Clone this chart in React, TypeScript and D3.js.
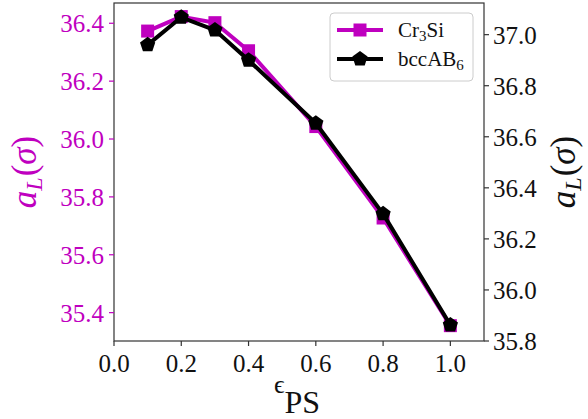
import React from "react";
import * as d3 from "d3";

const eps = [0.1, 0.2, 0.3, 0.4, 0.6, 0.8, 1.0];
const cr3si = [36.373, 36.423, 36.402, 36.305, 36.043, 35.727, 35.355];
const bccAB6 = [36.96, 37.068, 37.018, 36.9, 36.653, 36.298, 35.863];
const xTicks = [0.0, 0.2, 0.4, 0.6, 0.8, 1.0];
const leftTicks = [35.4, 35.6, 35.8, 36.0, 36.2, 36.4];
const rightTicks = [35.8, 36.0, 36.2, 36.4, 36.6, 36.8, 37.0];

const W = 588, H = 419;
const L = 114, R = 484, T = 3, B = 341;
const MAG = "#bf00bf";
const FONT = "'Liberation Serif', 'DejaVu Serif', serif";

function pentagon(cx: number, cy: number, r: number) {
  const pts: [number, number][] = [];
  for (let i = 0; i < 5; i++) {
    const a = -Math.PI / 2 + (i * 2 * Math.PI) / 5;
    pts.push([cx + r * Math.cos(a), cy + r * Math.sin(a)]);
  }
  return "M" + pts.map((p) => p.join(",")).join("L") + "Z";
}

function ALabel({ x, y, fill }: { x: number; y: number; fill: string }) {
  return (
    <text transform={`translate(${x},${y}) rotate(-90)`} fontSize={35} textAnchor="middle" fill={fill} fontFamily={FONT}>
      <tspan fontStyle="italic">a</tspan>
      <tspan fontStyle="italic" fontSize={24} dy={6}>L</tspan>
      <tspan dy={-6} dx={1}>(</tspan>
      <tspan fontStyle="italic">σ</tspan>
      <tspan>)</tspan>
    </text>
  );
}

export default function App() {
  const x = d3.scaleLinear().domain([0, 1.1]).range([L, R]);
  const yL = d3.scaleLinear().domain([35.302, 36.47]).range([B, T]);
  const yR = d3.scaleLinear().domain([35.8, 37.124]).range([B, T]);

  const lineL = d3.line<number>().x((_, i) => x(eps[i])).y((d) => yL(d));
  const lineR = d3.line<number>().x((_, i) => x(eps[i])).y((d) => yR(d));

  const fs = 25;
  const sq = 13;

  return (
    <svg width={W} height={H} style={{ position: "absolute", left: 0, top: 0, background: "#fff" }} fontFamily={FONT}>
      {/* series */}
      <path d={lineL(cr3si) || ""} fill="none" stroke={MAG} strokeWidth={4} strokeLinejoin="round" />
      {cr3si.map((v, i) => (
        <rect key={"s" + i} x={x(eps[i]) - sq / 2} y={yL(v) - sq / 2} width={sq} height={sq} fill={MAG} />
      ))}
      <path d={lineR(bccAB6) || ""} fill="none" stroke="#000" strokeWidth={4} strokeLinejoin="round" />
      {bccAB6.map((v, i) => (
        <path key={"p" + i} d={pentagon(x(eps[i]), yR(v), 8)} fill="#000" />
      ))}

      {/* frame */}
      <rect x={L} y={T} width={R - L} height={B - T} fill="none" stroke="#333" strokeWidth={1.2} />

      {/* x axis */}
      {xTicks.map((t) => (
        <g key={"x" + t}>
          <line x1={x(t)} x2={x(t)} y1={B} y2={B + 5} stroke="#333" strokeWidth={1.2} />
          <text x={x(t)} y={372} fontSize={fs} textAnchor="middle" fill="#111">{t.toFixed(1)}</text>
        </g>
      ))}
      <text x={(L + R) / 2 - 2} y={413} fontSize={32} textAnchor="middle" fill="#111">
        <tspan fontSize={26} dy={-20}>ϵ</tspan>
        <tspan dy={20}>PS</tspan>
      </text>

      {/* left axis */}
      {leftTicks.map((t) => (
        <g key={"l" + t}>
          <line x1={L - 5} x2={L} y1={yL(t)} y2={yL(t)} stroke={MAG} strokeWidth={1.2} />
          <text x={L - 10} y={yL(t) + 9} fontSize={fs} textAnchor="end" fill={MAG}>{t.toFixed(1)}</text>
        </g>
      ))}
      <ALabel x={36} y={(T + B) / 2} fill={MAG} />

      {/* right axis */}
      {rightTicks.map((t) => (
        <g key={"r" + t}>
          <line x1={R} x2={R + 5} y1={yR(t)} y2={yR(t)} stroke="#333" strokeWidth={1.2} />
          <text x={R + 9} y={yR(t) + 9} fontSize={fs} textAnchor="start" fill="#111">{t.toFixed(1)}</text>
        </g>
      ))}
      <ALabel x={575} y={(T + B) / 2} fill="#111" />

      {/* legend */}
      <rect x={330} y={13} width={143} height={68} rx={4} fill="#fff" fillOpacity={0.8} stroke="#ccc" strokeWidth={1} />
      <line x1={337} x2={383} y1={30} y2={30} stroke={MAG} strokeWidth={4} />
      <rect x={360 - sq / 2} y={30 - sq / 2} width={sq} height={sq} fill={MAG} />
      <text x={398} y={37} fontSize={21} fill="#111">
        Cr<tspan fontSize={15} dy={4}>3</tspan><tspan dy={-4}>Si</tspan>
      </text>
      <line x1={337} x2={383} y1={59} y2={59} stroke="#000" strokeWidth={4} />
      <path d={pentagon(360, 59, 8)} fill="#000" />
      <text x={398} y={66} fontSize={21} fill="#111">
        bccAB<tspan fontSize={15} dy={4}>6</tspan>
      </text>
    </svg>
  );
}
